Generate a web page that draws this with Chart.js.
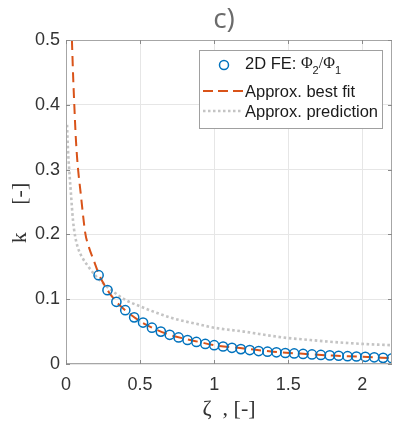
<!DOCTYPE html>
<html>
<head>
<meta charset="utf-8">
<script src="https://cdn.jsdelivr.net/npm/chart.js@4/dist/chart.umd.min.js"></script>
<style>
  html, body { margin:0; padding:0; background:#fff; }
  #wrap { width:394px; height:425px; }
</style>
</head>
<body>
<div id="wrap"><canvas id="c" width="394" height="425"></canvas></div>
<script>
// ── data ────────────────────────────────────────────────────────────────────
const feZeta = [0.22,0.28,0.34,0.40,0.46,0.52,0.58,0.64,0.70,0.76,0.82,0.88,0.94,1.00,1.06,1.12,1.18,
                1.24,1.30,1.36,1.42,1.48,1.54,1.60,1.66,1.72,1.78,1.84,1.90,1.96,2.02,2.08,2.14,2.20];
const feK    = [0.137,0.114,0.096,0.083,0.072,0.064,0.056,0.050,0.045,0.041,0.037,0.034,0.031,0.029,0.027,0.025,0.023,
                0.0215,0.020,0.019,0.018,0.017,0.0163,0.0155,0.0148,0.014,0.0133,0.0127,0.0121,0.0116,0.0111,0.0103,0.0095,0.0088];

const fitZeta = [0.04,0.048,0.056,0.066,0.076,0.086,0.097,0.11,0.13,0.155,0.187,0.225,0.28,0.34,0.40,0.50,0.60,0.70,0.80,0.90,1.0,1.2,1.4,1.6,1.8,2.0,2.2];
const fitK    = [0.50,0.445,0.40,0.35,0.315,0.29,0.268,0.24,0.202,0.18,0.16,0.137,0.114,0.096,0.083,0.066,0.054,0.045,0.039,0.034,0.029,0.024,0.019,0.0157,0.013,0.0112,0.0089];

const predZeta = [0.007,0.0135,0.022,0.034,0.047,0.061,0.081,0.108,0.149,0.196,0.264,0.30,0.40,0.50,0.60,0.70,0.80,0.90,1.0,1.2,1.4,1.5,1.6,1.8,2.0,2.2];
const predK    = [0.369,0.330,0.299,0.261,0.222,0.198,0.179,0.165,0.151,0.137,0.122,0.115,0.099,0.089,0.080,0.072,0.066,0.061,0.056,0.050,0.043,0.040,0.038,0.034,0.031,0.029];

const xTicks = [0, 0.5, 1, 1.5, 2];
const yTicks = [0, 0.1, 0.2, 0.3, 0.4, 0.5];

const BLUE = "#0072BD", ORANGE = "#D95319", GREY = "#c4c4c4";
const pts = (xs, ys) => xs.map((x,i) => ({ x, y:ys[i] }));

// ── box, inward ticks, title, legend ────────────────────────────────────────
const decor = {
  id:"decor",
  afterDraw(chart) {
    const { ctx, chartArea:a, scales:{x, y} } = chart;
    ctx.save();
    ctx.strokeStyle = "#a6a6a6"; ctx.lineWidth = 1;
    ctx.strokeRect(a.left+0.5, a.top+0.5, a.right-a.left-1, a.bottom-a.top-1);
    ctx.strokeStyle = "#8a8a8a";
    ctx.beginPath();
    xTicks.forEach(v => { const px = Math.round(x.getPixelForValue(v))+0.5; ctx.moveTo(px, a.bottom); ctx.lineTo(px, a.bottom-4); ctx.moveTo(px, a.top); ctx.lineTo(px, a.top+4); });
    yTicks.forEach(v => { const py = Math.round(y.getPixelForValue(v))+0.5; ctx.moveTo(a.left, py); ctx.lineTo(a.left+4, py); ctx.moveTo(a.right, py); ctx.lineTo(a.right-4, py); });
    ctx.stroke();

    // title
    ctx.fillStyle = "#6b6b6b"; ctx.font = "28px 'Open Sans'"; ctx.textAlign = "center"; ctx.textBaseline = "middle";
    ctx.fillText("c)", 224, 20);

    // legend
    const bx = 199, by = 50, bw = 183, bh = 78;
    ctx.fillStyle = "#fff"; ctx.fillRect(bx, by, bw, bh);
    ctx.strokeStyle = "#a0a0a0"; ctx.lineWidth = 1; ctx.strokeRect(bx+0.5, by+0.5, bw, bh);
    ctx.textAlign = "left"; ctx.fillStyle = "#1a1a1a";
    const tx = 245, r1 = 65, r2 = 92, r3 = 112;
    ctx.strokeStyle = BLUE; ctx.lineWidth = 1.5;
    ctx.beginPath(); ctx.arc(224, r1, 4.5, 0, Math.PI*2); ctx.stroke();
    let cx = tx;
    const part = (s, f, dy) => { ctx.font = f; ctx.fillText(s, cx, r1+dy); cx += ctx.measureText(s).width; };
    part("2D FE: ", "16.5px 'Liberation Sans'", -1);
    part("Φ", "16px 'Liberation Serif'", -1);
    part("2", "11px 'Liberation Sans'", 6);
    part("/Φ", "16px 'Liberation Serif'", -1);
    part("1", "11px 'Liberation Sans'", 6);
    ctx.font = "16.5px 'Liberation Sans'";
    ctx.fillText("Approx. best fit", tx, r2);
    ctx.fillText("Approx. prediction", tx, r3);
    ctx.lineWidth = 2; ctx.strokeStyle = ORANGE; ctx.setLineDash([10,5]);
    ctx.beginPath(); ctx.moveTo(203, r2-1); ctx.lineTo(243, r2-1); ctx.stroke();
    ctx.lineWidth = 2.5; ctx.strokeStyle = GREY; ctx.setLineDash([2.5,2.5]);
    ctx.beginPath(); ctx.moveTo(203, r3-1); ctx.lineTo(243, r3-1); ctx.stroke();
    ctx.restore();
  }
};

const tickFont = { family:"'Liberation Sans'", size:18 };

new Chart(document.getElementById("c"), {
  type:"scatter",
  data:{
    datasets:[
      { label:"2D FE", data:pts(feZeta, feK), showLine:false, pointRadius:4.6, pointBorderWidth:1.5,
        pointBorderColor:BLUE, pointBackgroundColor:"rgba(0,0,0,0)", clip:0 },
      { label:"Approx. best fit", data:pts(fitZeta, fitK), showLine:true, pointRadius:0, borderColor:ORANGE,
        borderWidth:2, borderDash:[10,6], cubicInterpolationMode:"monotone", clip:0 },
      { label:"Approx. prediction", data:pts(predZeta, predK), showLine:true, pointRadius:0, borderColor:GREY,
        borderWidth:2.6, borderDash:[2.6,2.6], cubicInterpolationMode:"monotone", clip:0 },
    ],
  },
  options:{
    responsive:false, animation:false,
    layout:{ autoPadding:false, padding:{ top:40, right:2, left:0, bottom:0 } },
    plugins:{ legend:{display:false}, tooltip:{enabled:false} },
    scales:{
      x:{
        type:"linear", min:0, max:2.2,
        afterBuildTicks:s => { s.ticks = xTicks.map(v => ({ value:v })); },
        afterFit:s => { s.height = 61; s.paddingLeft = 0; s.paddingRight = 0; },
        grid:{ color:"#e6e6e6", drawTicks:false }, border:{ display:false },
        ticks:{ font:tickFont, color:"#333", padding:10, maxRotation:0, callback:v => String(v) },
        title:{ display:true, text:"ζ\u2002, [-]", font:{ family:"'Liberation Serif'", size:22 }, color:"#333", padding:{ bottom:3 } },
      },
      y:{
        type:"linear", min:0, max:0.5,
        afterBuildTicks:s => { s.ticks = yTicks.map(v => ({ value:v })); },
        afterFit:s => { s.width = 66; s.paddingTop = 0; s.paddingBottom = 0; },
        grid:{ color:"#e6e6e6", drawTicks:false }, border:{ display:false },
        ticks:{ font:tickFont, color:"#333", padding:6, callback:v => String(v) },
        title:{ display:true, text:"k\u2003 [-]\u2003", font:{ family:"'Liberation Serif'", size:22 }, color:"#333", padding:{ top:7 } },
      },
    },
  },
  plugins:[decor],
});
</script>
</body>
</html>
